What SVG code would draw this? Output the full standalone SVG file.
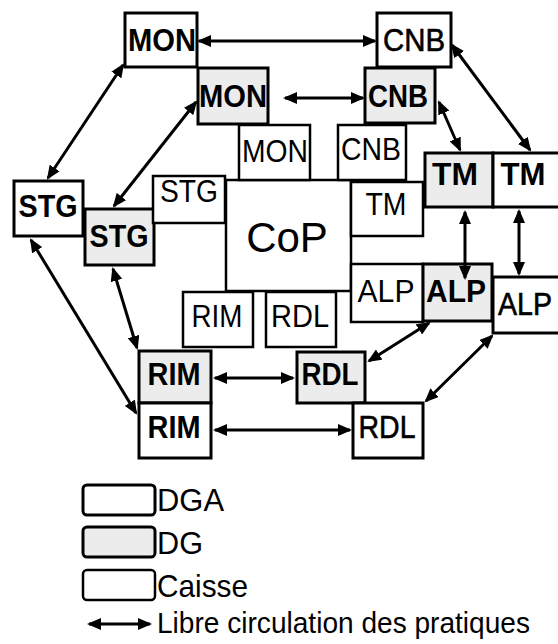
<svg xmlns="http://www.w3.org/2000/svg" width="558" height="644" viewBox="0 0 558 644">
<style>
.dga{fill:#fff;stroke:#000;stroke-width:3}
.dg{fill:#ececec;stroke:#000;stroke-width:3}
.cai{fill:#fff;stroke:#000;stroke-width:2.5}
text{font-family:"Liberation Sans",Arial,sans-serif;fill:#000;text-anchor:middle}
.l{font-size:32px}
.b{font-weight:bold}
.lg{font-size:32px;text-anchor:start}
.cn line{stroke:#000;stroke-width:3;marker-start:url(#ah);marker-end:url(#ah)}
</style>
<defs>
<marker id="ah" markerUnits="userSpaceOnUse" markerWidth="14" markerHeight="12" refX="12" refY="6" orient="auto-start-reverse" viewBox="0 0 14 12">
<path d="M0,0 L14,6 L0,12 z" fill="#000"/>
</marker>
</defs>
<rect width="558" height="644" fill="#fff"/>
<g id="nodes">
<g id="cop"><rect class="cai" x="226" y="180" width="125" height="111"/><text x="287" y="252" style="font-size:42px">CoP</text></g>
<g id="mon1"><rect class="dga" x="125" y="13" width="72" height="54"/><text class="l b" x="162" y="51" textLength="68" lengthAdjust="spacingAndGlyphs">MON</text></g>
<g id="cnb1"><rect class="dga" x="377" y="13" width="74" height="54"/><text class="l" x="414" y="51" textLength="62" lengthAdjust="spacingAndGlyphs" style="stroke:#000;stroke-width:0.6">CNB</text></g>
<g id="mon2"><rect class="dg" x="198" y="68" width="70" height="56"/><text class="l b" x="233" y="107" textLength="68" lengthAdjust="spacingAndGlyphs">MON</text></g>
<g id="cnb2"><rect class="dg" x="365" y="68" width="70" height="55"/><text class="l b" x="398" y="107" textLength="60" lengthAdjust="spacingAndGlyphs">CNB</text></g>
<g id="mon3"><rect class="cai" x="239" y="125" width="71" height="55"/><text class="l" x="275" y="162" textLength="66" lengthAdjust="spacingAndGlyphs">MON</text></g>
<g id="cnb3"><rect class="cai" x="338" y="125" width="68" height="55"/><text class="l" x="371" y="160" textLength="60" lengthAdjust="spacingAndGlyphs">CNB</text></g>
<g id="stg1"><rect class="dga" x="14" y="181" width="69" height="55"/><text class="l b" x="48" y="217" textLength="59" lengthAdjust="spacingAndGlyphs">STG</text></g>
<g id="stg2"><rect class="dg" x="85" y="209" width="69" height="56"/><text class="l b" x="119" y="247" textLength="59" lengthAdjust="spacingAndGlyphs">STG</text></g>
<g id="stg3"><rect class="cai" x="153" y="176" width="72" height="47"/><text class="l" x="189" y="202" textLength="58" lengthAdjust="spacingAndGlyphs">STG</text></g>
<g id="tm3"><rect class="cai" x="351" y="182" width="72" height="54"/><text class="l" x="386" y="215" textLength="41" lengthAdjust="spacingAndGlyphs">TM</text></g>
<g id="tm2"><rect class="dg" x="425" y="153" width="68" height="54"/><text class="l b" x="455" y="185" textLength="46" lengthAdjust="spacingAndGlyphs">TM</text></g>
<g id="tm1"><rect class="dga" x="493" y="153" width="75" height="54"/><text class="l b" x="523" y="185" textLength="45" lengthAdjust="spacingAndGlyphs">TM</text></g>
<g id="alp3"><rect class="cai" x="351" y="264" width="72" height="58"/><text class="l" x="386" y="302" textLength="57" lengthAdjust="spacingAndGlyphs">ALP</text></g>
<g id="alp2"><rect class="dg" x="423" y="264" width="69" height="57"/><text class="l b" x="456" y="302" textLength="60" lengthAdjust="spacingAndGlyphs">ALP</text></g>
<g id="alp1"><rect class="dga" x="493" y="277" width="75" height="56"/><text class="l" x="525" y="315" textLength="54" lengthAdjust="spacingAndGlyphs" style="stroke:#000;stroke-width:0.6">ALP</text></g>
<g id="rim3"><rect class="cai" x="183" y="292" width="70" height="55"/><text class="l" x="217" y="327" textLength="51" lengthAdjust="spacingAndGlyphs">RIM</text></g>
<g id="rdl3"><rect class="cai" x="266" y="292" width="70" height="55"/><text class="l" x="300" y="327" textLength="58" lengthAdjust="spacingAndGlyphs">RDL</text></g>
<g id="rim2"><rect class="dg" x="139" y="351" width="72" height="52"/><text class="l b" x="174" y="385" textLength="53" lengthAdjust="spacingAndGlyphs">RIM</text></g>
<g id="rdl2"><rect class="dg" x="297" y="352" width="68" height="51"/><text class="l b" x="330" y="385" textLength="57" lengthAdjust="spacingAndGlyphs">RDL</text></g>
<g id="rim1"><rect class="dga" x="139" y="403" width="72" height="55"/><text class="l b" x="174" y="438" textLength="53" lengthAdjust="spacingAndGlyphs">RIM</text></g>
<g id="rdl1"><rect class="dga" x="353" y="403" width="70" height="55"/><text class="l" x="387" y="438" textLength="57" lengthAdjust="spacingAndGlyphs" style="stroke:#000;stroke-width:0.6">RDL</text></g>
</g>
<g id="connectors" class="cn">
<line x1="199" y1="41" x2="375" y2="41"/>
<line x1="285" y1="98" x2="363" y2="98"/>
<line x1="123" y1="65" x2="48" y2="178"/>
<line x1="196" y1="102" x2="114" y2="206"/>
<line x1="31" y1="240" x2="136" y2="413"/>
<line x1="113" y1="269" x2="137" y2="348"/>
<line x1="452" y1="45" x2="530" y2="150"/>
<line x1="439" y1="102" x2="460" y2="150"/>
<line x1="465" y1="212" x2="465" y2="278"/>
<line x1="519" y1="211" x2="519" y2="274"/>
<line x1="429" y1="323" x2="369" y2="361"/>
<line x1="492" y1="336" x2="426" y2="401"/>
<line x1="215" y1="378" x2="293" y2="378"/>
<line x1="215" y1="430" x2="350" y2="430"/>
<line x1="89" y1="624" x2="150" y2="624"/>
</g>
<g id="legend">
<rect class="dga" x="83" y="485" width="72" height="30" rx="4"/>
<rect class="dg" x="83" y="527" width="72" height="30" rx="4"/>
<rect class="cai" x="83" y="570" width="72" height="30" rx="4"/>
<text class="lg" x="157" y="511" textLength="67" lengthAdjust="spacingAndGlyphs">DGA</text>
<text class="lg" x="157" y="554" textLength="46" lengthAdjust="spacingAndGlyphs">DG</text>
<text class="lg" x="157" y="597" textLength="91" lengthAdjust="spacingAndGlyphs">Caisse</text>
<text class="lg" x="157" y="633" textLength="373" lengthAdjust="spacingAndGlyphs" style="font-size:30px">Libre circulation des pratiques</text>
</g>
</svg>
